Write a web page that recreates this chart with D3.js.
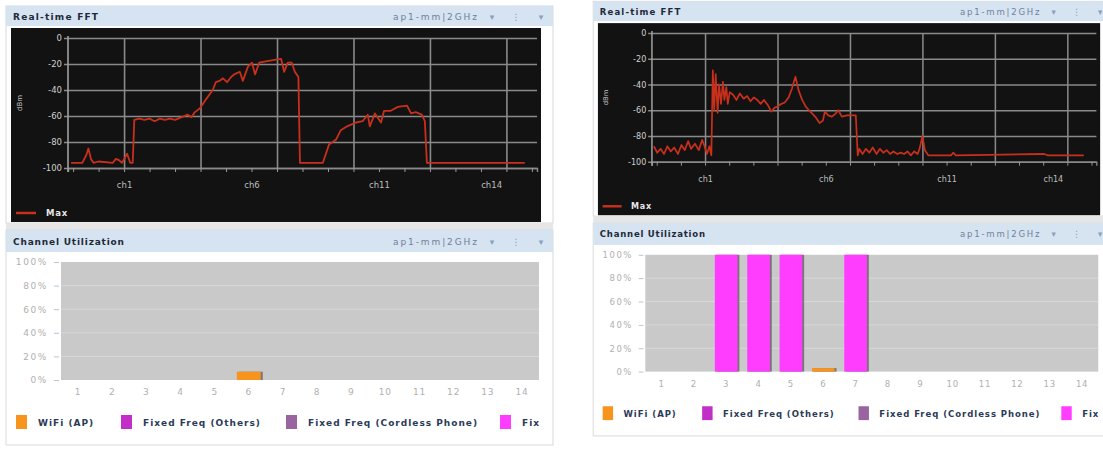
<!DOCTYPE html>
<html>
<head>
<script src="https://d3js.org/d3.v7.min.js"></script>
<style>
body{margin:0;background:#fff;}
text{font-family:"DejaVu Sans",Verdana,sans-serif;}
</style>
</head>
<body>
<svg width="1103" height="450" id="shots"></svg>
<script>
// spectrum traces, [MHz, dBm]
const leftMax=[[2401.6,-96],[2403.8,-96],[2404.6,-90],[2405.0,-85],[2405.5,-93],[2406.0,-96],[2407,-95],[2409.8,-96],[2410.4,-93],[2411.0,-94],[2411.6,-96],[2412.6,-89],[2413.2,-96],[2413.7,-96],[2414.0,-63],[2415,-62],[2416,-63],[2417,-62],[2418,-64],[2419,-62],[2420,-63],[2421,-62],[2422,-63],[2423.2,-61],[2424.5,-59],[2425.2,-61],[2425.9,-57],[2426.9,-54],[2428.1,-47],[2429.4,-40],[2430,-34],[2430.7,-33],[2431.4,-31],[2432.2,-34],[2433.0,-30],[2433.6,-28],[2434.7,-26],[2435.3,-33],[2436.3,-22],[2437.1,-19],[2437.7,-28],[2438.5,-19],[2439.8,-18],[2441.2,-17],[2442.8,-16],[2443.4,-26],[2444.1,-19],[2444.9,-19],[2445.5,-26],[2446.2,-30],[2446.5,-96],[2451,-96],[2452.2,-82],[2453.6,-78],[2454.5,-71],[2455.7,-68],[2456.3,-67],[2457.5,-65],[2458.8,-64],[2459.8,-59],[2460.2,-68],[2461.2,-58],[2462.4,-65],[2463,-56],[2464.3,-56],[2465.7,-53],[2467.5,-52],[2468.3,-58],[2469.2,-57],[2470.4,-59],[2471,-64],[2471.4,-96],[2490.6,-96]];
const rightMax=[[2401.4,-88],[2402.1,-93],[2402.8,-90],[2403.5,-94],[2404.2,-88],[2404.9,-92],[2405.6,-89],[2406.4,-94],[2407.1,-87],[2407.8,-91],[2408.5,-84],[2409.1,-90],[2409.9,-86],[2410.7,-91],[2411.4,-83],[2411.9,-88],[2412.4,-94],[2412.9,-88],[2413.3,-95],[2413.6,-29],[2413.9,-60],[2414.2,-32],[2414.6,-62],[2414.9,-40],[2415.3,-55],[2415.7,-38],[2416.0,-52],[2416.4,-42],[2416.7,-55],[2417.1,-46],[2417.8,-48],[2418.5,-52],[2419.2,-47],[2420,-51],[2420.7,-49],[2421.4,-53],[2422.1,-50],[2422.8,-52],[2423.5,-55],[2424.2,-52],[2425,-56],[2425.7,-61],[2426.4,-58],[2427.1,-57],[2427.8,-55],[2428.5,-54],[2429.3,-50],[2430,-43],[2430.7,-34],[2431.4,-45],[2432.1,-52],[2432.8,-57],[2433.5,-60],[2434.3,-63],[2435,-66],[2435.7,-70],[2436.4,-68],[2436.8,-61],[2437.5,-64],[2438.2,-65],[2438.9,-63],[2439.6,-60],[2440.3,-65],[2441.4,-64],[2442.5,-64],[2443.2,-64],[2443.6,-95],[2443.9,-90],[2444.6,-94],[2445.3,-90],[2446,-93],[2446.7,-89],[2447.5,-94],[2448.2,-90],[2448.9,-93],[2449.6,-91],[2450.3,-94],[2451,-92],[2451.8,-94],[2452.5,-93],[2453.2,-94],[2453.9,-92],[2454.6,-95],[2455.3,-92],[2456,-94],[2456.4,-90],[2457,-80],[2457.5,-91],[2458.2,-95],[2462.9,-95],[2463.4,-93],[2463.9,-95],[2482.2,-94],[2482.9,-95],[2490.4,-95]];

const chLabels=["ch1","ch6","ch11","ch14"];
const chFreqs=[2412,2437,2462,2484];
const gridFreqs=[2412,2427,2442,2457,2472,2487];
const minorFreqs=d3.range(2402,2493,5);
const dbTicks=[0,-20,-40,-60,-80,-100];

const channels=[1,2,3,4,5,6,7,8,9,10,11,12,13,14];
const utilTicks=[0,20,40,60,80,100];
const utilKeys=["wifi","others","cordless","fix"];
const utilNames=["WiFi (AP)","Fixed Freq (Others)","Fixed Freq (Cordless Phone)","Fix"];
const utilColors=["#f7941d","#c22fc8","#9a64a0","#ff3dff"];

const leftWifi=[0,0,0,0,0,7,0,0,0,0,0,0,0,0];
const leftOthers=[0,0,0,0,0,0,0,0,0,0,0,0,0,0];
const leftCordless=[0,0,0,0,0,0,0,0,0,0,0,0,0,0];
const leftFix=[0,0,0,0,0,0,0,0,0,0,0,0,0,0];
const rightWifi=[0,0,0,0,0,3,0,0,0,0,0,0,0,0];
const rightOthers=[0,0,0,0,0,0,0,0,0,0,0,0,0,0];
const rightCordless=[0,0,0,0,0,0,0,0,0,0,0,0,0,0];
const rightFix=[0,0,100,100,100,0,100,0,0,0,0,0,0,0];

let svg=d3.select("#shots");

function header(g,y,h,title,titleW){
    g.append("rect").attr("x",6).attr("y",y).attr("width",547).attr("height",h).attr("fill","#d6e3f0");
    g.append("text").attr("x",13).attr("y",y+h/2+3.5).attr("font-size",9).attr("font-weight","bold")
        .attr("fill","#1e2a3a").attr("textLength",titleW).attr("lengthAdjust","spacing").text(title);
    g.append("text").attr("x",393).attr("y",y+h/2+3.5).attr("font-size",9).attr("fill","#6f819c")
        .attr("textLength",84).text("ap1-mm|2GHz");
    g.selectAll(null).data([["▾",492],["⋮",516],["▾",541]]).join("text")
        .attr("x",d=>d[1]).attr("y",y+h/2+3.5).attr("text-anchor","middle").attr("font-size",9)
        .attr("fill","#8aa0bd").text(d=>d[0]);
}

function drawShot(g,trace,util){
    // ---- Real-time FFT ----
    g.append("rect").attr("x",6).attr("y",6).attr("width",547).attr("height",217).attr("fill","#fff").attr("stroke","#d9d9d9");
    header(g,6,20,"Real-time FFT",85);
    g.append("rect").attr("x",11).attr("y",28).attr("width",530).attr("height",194).attr("fill","#121212");

    let x=d3.scaleLinear().domain([2401,2493]).range([68,537]);
    let y=d3.scaleLinear().domain([-100,0]).range([168,38]);

    let yAx=g.append("g").attr("transform","translate(68,0)")
        .call(d3.axisLeft(y).tickValues(dbTicks).tickSize(0).tickPadding(6).tickFormat(d=>String(d)));
    yAx.select(".domain").remove();
    yAx.selectAll("line").attr("x1",-4).attr("x2",469).attr("stroke","#8a8a8a").attr("stroke-width",1.6);
    yAx.selectAll("text").attr("fill","#d0d0d0").attr("font-size",8.5).attr("font-family",null);

    let grid=g.append("g").attr("transform","translate(0,168)")
        .call(d3.axisBottom(x).tickValues(gridFreqs).tickSize(-130).tickFormat(""));
    grid.select(".domain").remove();
    grid.selectAll("line").attr("stroke","#8a8a8a").attr("stroke-width",1.6);

    let minor=g.append("g").attr("transform","translate(0,168)")
        .call(d3.axisBottom(x).tickValues(minorFreqs).tickSize(4).tickFormat(""));
    minor.select(".domain").attr("stroke","#8a8a8a").attr("stroke-width",1.4);
    minor.selectAll("line").attr("stroke","#9a9a9a");

    let chAx=g.append("g").attr("transform","translate(0,168)")
        .call(d3.axisBottom(x).tickValues(chFreqs).tickSize(0).tickPadding(14).tickFormat((d,i)=>chLabels[i]));
    chAx.select(".domain").remove();
    chAx.selectAll("text").attr("fill","#bdbdbd").attr("font-size",8.5).attr("font-family",null);

    g.append("line").attr("x1",68).attr("x2",68).attr("y1",36).attr("y2",172).attr("stroke","#a0a0a0").attr("stroke-width",1.6);

    g.append("text").attr("transform","translate(22,103) rotate(-90)").attr("text-anchor","middle")
        .attr("font-size",7).attr("fill","#c8c8c8").text("dBm");

    g.append("path").datum(trace)
        .attr("d",d3.line().x(d=>x(d[0])).y(d=>y(d[1])))
        .attr("fill","none").attr("stroke","#c9301c").attr("stroke-width",1.8).attr("stroke-linejoin","round");

    g.append("line").attr("x1",16).attr("x2",36).attr("y1",213).attr("y2",213).attr("stroke","#c9301c").attr("stroke-width",2.5);
    g.append("text").attr("x",46).attr("y",216).attr("font-size",8.5).attr("font-weight","bold").attr("fill","#e6e6e6")
        .attr("letter-spacing",0.8).text("Max");

    g.append("rect").attr("x",6).attr("y",223).attr("width",547).attr("height",7).attr("fill","#e6e6e6");

    // ---- Channel Utilization ----
    g.append("rect").attr("x",6).attr("y",230).attr("width",547).attr("height",215).attr("fill","#fff").attr("stroke","#d9d9d9");
    header(g,230,22,"Channel Utilization",111);

    let band=d3.scaleBand().domain(channels).range([61,539]).paddingInner(0.3).paddingOuter(0.15);
    let yU=d3.scaleLinear().domain([0,100]).range([380,262]);

    g.append("rect").attr("x",61).attr("y",262).attr("width",478).attr("height",118).attr("fill","#c9c9c9");
    g.selectAll(null).data(utilTicks.slice(1,-1)).join("line")
        .attr("x1",61).attr("x2",539).attr("y1",d=>yU(d)).attr("y2",d=>yU(d)).attr("stroke","#d8d8d8");

    let uy=g.append("g").attr("transform","translate(59,0)")
        .call(d3.axisLeft(yU).tickValues(utilTicks).tickSize(5).tickPadding(6).tickFormat(d=>d+"%"));
    uy.select(".domain").remove();
    uy.selectAll("line").attr("stroke","#b3c6da");
    uy.selectAll("text").attr("fill","#b0b0b0").attr("font-size",9).attr("letter-spacing",1.6).attr("font-family",null);

    let ux=g.append("g").attr("transform","translate(0,380)")
        .call(d3.axisBottom(band).tickSize(0).tickPadding(9));
    ux.select(".domain").remove();
    ux.selectAll("text").attr("fill","#b0b0b0").attr("font-size",9).attr("letter-spacing",0.8).attr("font-family",null);

    let rows=channels.map((c,i)=>{
        let r={ch:c};
        utilKeys.forEach(k=>r[k]=util[k][i]);
        return r;
    });
    let series=d3.stack().keys(utilKeys)(rows);
    let bars=series.flatMap((s,si)=>s.filter(d=>d[1]>d[0]).map(d=>({ch:d.data.ch,y0:d[0],y1:d[1],c:utilColors[si]})));

    g.selectAll(null).data(bars).join("rect")
        .attr("x",d=>band(d.ch)+2).attr("y",d=>yU(d.y1)).attr("width",band.bandwidth())
        .attr("height",d=>yU(d.y0)-yU(d.y1)).attr("fill","#3a2a3a").attr("opacity",0.55);
    g.selectAll(null).data(bars).join("rect")
        .attr("x",d=>band(d.ch)).attr("y",d=>yU(d.y1)).attr("width",band.bandwidth())
        .attr("height",d=>yU(d.y0)-yU(d.y1)).attr("fill",d=>d.c);

    let legX=[16,121,286,500];
    let leg=g.selectAll(null).data(utilNames).join("g").attr("transform",(d,i)=>`translate(${legX[i]},415)`);
    leg.append("rect").attr("width",11).attr("height",14).attr("fill",(d,i)=>utilColors[i]);
    leg.append("text").attr("x",22).attr("y",11).attr("font-size",9).attr("font-weight","bold")
        .attr("letter-spacing",1).attr("fill","#2b3a58").text(d=>d);
}

let left=svg.append("g");
drawShot(left,leftMax,{wifi:leftWifi,others:leftOthers,cordless:leftCordless,fix:leftFix});

let right=svg.append("g").attr("transform","translate(587.5,-4.6) scale(0.9476,0.99)");
drawShot(right,rightMax,{wifi:rightWifi,others:rightOthers,cordless:rightCordless,fix:rightFix});
</script>
</body>
</html>
